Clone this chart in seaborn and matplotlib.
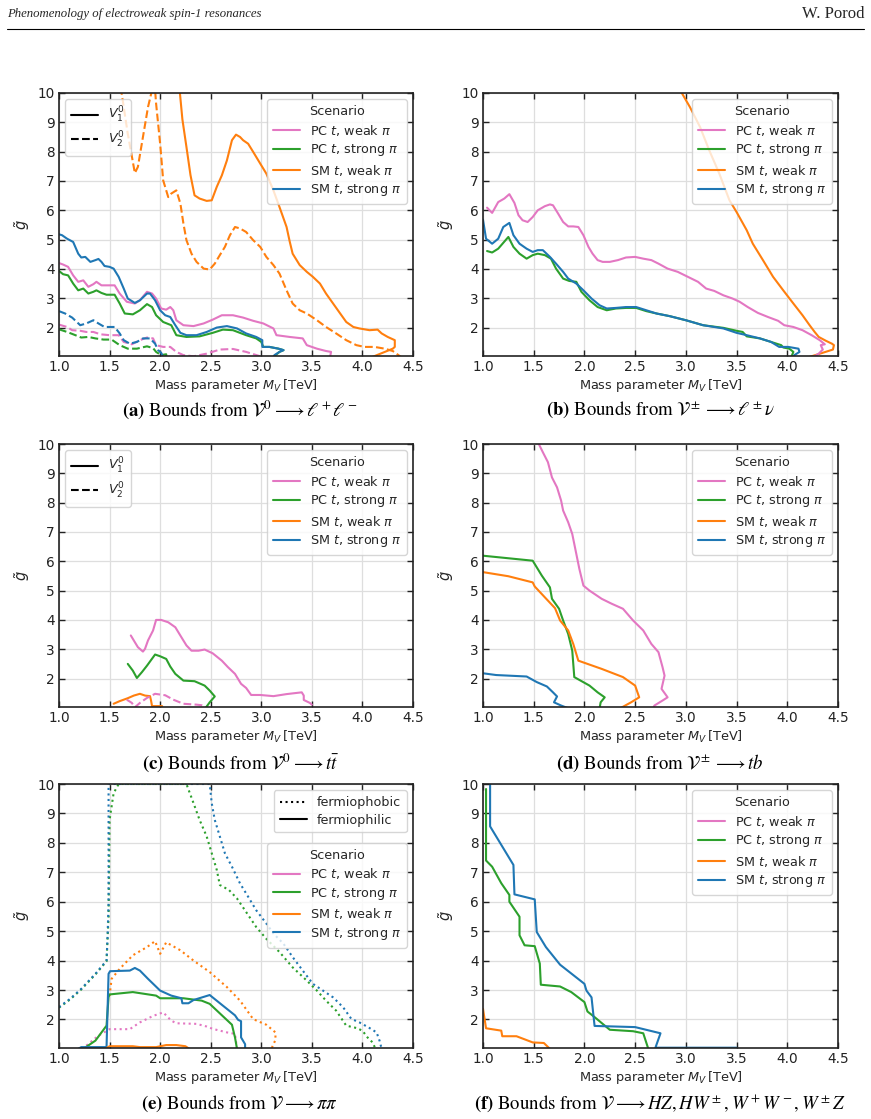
import matplotlib
matplotlib.use("Agg")
import matplotlib.pyplot as plt
import seaborn as sns
from matplotlib.lines import Line2D

# ---------------- DATA ----------------
XTICKS = [1.0, 1.5, 2.0, 2.5, 3.0, 3.5, 4.0, 4.5]
YTICKS = [2, 3, 4, 5, 6, 7, 8, 9, 10]
SCENARIOS = ["PC $t$, weak $\\pi$", "PC $t$, strong $\\pi$", "SM $t$, weak $\\pi$", "SM $t$, strong $\\pi$"]
COLORS = ["#e377c2", "#2ca02c", "#ff7f0e", "#1f77b4"]

# (a) V0 -> l+l-
a_smw1_x = [2.19, 2.22, 2.26, 2.30, 2.34, 2.39, 2.46, 2.51, 2.56, 2.61, 2.66, 2.71, 2.75, 2.79, 2.82, 2.87, 2.92, 2.99, 3.05, 3.12, 3.18, 3.25, 3.28, 3.31, 3.38, 3.45, 3.51, 3.58, 3.64, 3.71, 3.78, 3.84, 3.91, 3.97, 4.07, 4.15, 4.19, 4.25, 4.32, 4.32, 4.30, 4.10]
a_smw1_y = [10.2, 9.1, 8.16, 7.2, 6.51, 6.40, 6.32, 6.34, 6.80, 7.19, 7.70, 8.39, 8.58, 8.50, 8.39, 8.27, 7.99, 7.59, 7.25, 6.68, 6.11, 5.43, 4.95, 4.52, 4.13, 3.90, 3.73, 3.50, 3.16, 2.82, 2.48, 2.19, 2.02, 1.97, 1.91, 1.93, 1.80, 1.68, 1.57, 1.34, 1.28, 1.0]
a_smw2_x = [1.61, 1.68, 1.75, 1.78, 1.83, 1.88, 1.92, 1.95, 1.96, 2.00, 2.03, 2.08, 2.11, 2.16, 2.20, 2.23, 2.26, 2.31, 2.36, 2.43, 2.49, 2.54, 2.59, 2.64, 2.69, 2.74, 2.79, 2.85, 2.92, 2.99, 3.05, 3.12, 3.18, 3.25, 3.31, 3.38, 3.45, 3.55, 3.64, 3.74, 3.84, 3.94, 4.02, 4.12, 4.22, 4.30, 4.38]
a_smw2_y = [10.2, 8.61, 7.27, 7.48, 8.50, 9.52, 10.1, 10.1, 9.64, 8.27, 7.02, 6.45, 6.57, 6.68, 6.23, 5.55, 4.98, 4.52, 4.24, 4.01, 3.98, 4.18, 4.47, 4.75, 5.15, 5.43, 5.38, 5.26, 4.98, 4.75, 4.41, 4.13, 3.84, 3.27, 2.82, 2.59, 2.48, 2.25, 2.02, 1.80, 1.57, 1.40, 1.34, 1.34, 1.28, 1.20, 1.0]
a_sms1_x = [1.0, 1.03, 1.08, 1.14, 1.19, 1.22, 1.26, 1.31, 1.36, 1.39, 1.42, 1.45, 1.50, 1.54, 1.59, 1.64, 1.68, 1.75, 1.80, 1.87, 1.90, 1.95, 2.00, 2.05, 2.10, 2.15, 2.20, 2.26, 2.36, 2.46, 2.56, 2.66, 2.76, 2.85, 2.95, 3.01, 3.01, 3.08, 3.17, 3.22, 3.18, 3.13, 3.12]
a_sms1_y = [5.18, 5.15, 5.03, 4.92, 4.52, 4.39, 4.41, 4.24, 4.30, 4.34, 4.24, 4.10, 4.07, 4.01, 3.73, 3.33, 2.99, 2.84, 2.93, 3.16, 3.16, 2.93, 2.59, 2.42, 2.36, 2.08, 1.82, 1.74, 1.74, 1.85, 2.00, 2.05, 1.97, 1.80, 1.68, 1.57, 1.34, 1.34, 1.28, 1.23, 1.17, 1.06, 1.0]
a_pcw1_x = [1.0, 1.04, 1.09, 1.14, 1.19, 1.24, 1.29, 1.34, 1.37, 1.42, 1.47, 1.55, 1.60, 1.67, 1.75, 1.80, 1.87, 1.92, 1.96, 2.01, 2.06, 2.10, 2.13, 2.16, 2.23, 2.33, 2.43, 2.52, 2.61, 2.72, 2.82, 2.92, 3.02, 3.12, 3.15, 3.28, 3.41, 3.45, 3.55, 3.64, 3.69, 3.68]
a_pcw1_y = [4.20, 4.15, 4.07, 3.78, 3.56, 3.61, 3.39, 3.48, 3.56, 3.44, 3.44, 3.44, 3.16, 2.88, 2.82, 2.93, 3.22, 3.16, 2.99, 2.65, 2.61, 2.70, 2.59, 2.25, 2.08, 2.05, 2.14, 2.27, 2.42, 2.42, 2.34, 2.23, 2.14, 1.97, 1.74, 1.68, 1.63, 1.40, 1.28, 1.20, 1.17, 1.0]
a_pcs1_x = [1.0, 1.04, 1.09, 1.14, 1.19, 1.24, 1.29, 1.34, 1.37, 1.42, 1.47, 1.55, 1.60, 1.65, 1.73, 1.80, 1.87, 1.92, 1.96, 2.03, 2.11, 2.16, 2.26, 2.39, 2.52, 2.62, 2.72, 2.85, 2.95, 3.00, 3.02, 3.08, 3.17, 3.22, 3.18, 3.12]
a_pcs1_y = [3.93, 3.82, 3.78, 3.50, 3.27, 3.33, 3.16, 3.22, 3.27, 3.18, 3.12, 3.12, 2.82, 2.48, 2.45, 2.59, 2.80, 2.70, 2.42, 2.19, 2.08, 1.74, 1.68, 1.70, 1.82, 1.93, 1.91, 1.74, 1.63, 1.51, 1.34, 1.34, 1.28, 1.23, 1.17, 1.0]
a_sms2_x = [1.0, 1.06, 1.13, 1.21, 1.27, 1.34, 1.39, 1.45, 1.55, 1.60, 1.64, 1.70, 1.77, 1.83, 1.90, 1.95, 1.98, 2.01, 2.03]
a_sms2_y = [2.56, 2.48, 2.34, 2.08, 2.14, 2.25, 2.14, 2.02, 2.02, 1.80, 1.57, 1.45, 1.51, 1.63, 1.63, 1.45, 1.23, 1.14, 1.0]
a_pcw2_x = [1.0, 1.08, 1.13, 1.21, 1.27, 1.34, 1.41, 1.50, 1.59, 1.64, 1.72, 1.80, 1.87, 1.93, 1.96, 2.03, 2.10, 2.16, 2.23, 2.33, 2.46, 2.59, 2.72, 2.85, 2.99]
a_pcw2_y = [2.10, 2.02, 1.91, 1.89, 1.85, 1.85, 1.77, 1.74, 1.74, 1.51, 1.43, 1.57, 1.66, 1.63, 1.40, 1.34, 1.34, 1.17, 1.06, 1.02, 1.11, 1.25, 1.27, 1.17, 1.02]
a_pcs2_x = [1.0, 1.08, 1.14, 1.22, 1.29, 1.36, 1.44, 1.52, 1.60, 1.68, 1.77, 1.87, 1.93, 1.96, 2.01, 2.06, 2.06]
a_pcs2_y = [1.94, 1.85, 1.77, 1.66, 1.68, 1.63, 1.59, 1.59, 1.40, 1.28, 1.28, 1.36, 1.30, 1.17, 1.06, 1.09, 1.0]

# (b) V+- -> l nu
b_smw_x = [2.96, 3.04, 3.14, 3.23, 3.33, 3.43, 3.50, 3.60, 3.66, 3.76, 3.86, 3.96, 4.06, 4.15, 4.22, 4.27, 4.31, 4.38, 4.44, 4.46, 4.45, 4.35, 4.22]
b_smw_y = [10.0, 9.52, 8.84, 8.05, 7.25, 6.34, 5.94, 5.32, 4.86, 4.30, 3.73, 3.27, 2.82, 2.42, 2.08, 1.85, 1.68, 1.55, 1.45, 1.40, 1.25, 1.14, 1.0]
b_pcw_x = [1.04, 1.09, 1.15, 1.21, 1.26, 1.31, 1.35, 1.39, 1.44, 1.49, 1.54, 1.61, 1.66, 1.69, 1.74, 1.79, 1.84, 1.89, 1.94, 1.99, 2.04, 2.08, 2.13, 2.18, 2.25, 2.33, 2.41, 2.50, 2.58, 2.66, 2.73, 2.82, 2.92, 3.02, 3.12, 3.20, 3.28, 3.37, 3.46, 3.53, 3.61, 3.71, 3.81, 3.91, 3.97, 4.06, 4.15, 4.24, 4.32, 4.37, 4.33, 4.35, 4.31, 4.26]
b_pcw_y = [6.09, 5.91, 6.28, 6.40, 6.55, 6.25, 5.83, 5.66, 5.60, 5.77, 6.00, 6.14, 6.20, 6.17, 5.89, 5.60, 5.45, 5.45, 5.43, 5.15, 4.75, 4.52, 4.30, 4.24, 4.24, 4.30, 4.39, 4.41, 4.35, 4.30, 4.18, 4.01, 3.90, 3.73, 3.56, 3.33, 3.25, 3.10, 2.99, 2.88, 2.70, 2.50, 2.36, 2.23, 2.08, 2.02, 1.91, 1.74, 1.57, 1.43, 1.40, 1.25, 1.11, 1.0]
b_pcs_x = [1.04, 1.09, 1.15, 1.20, 1.25, 1.30, 1.36, 1.43, 1.49, 1.54, 1.61, 1.67, 1.72, 1.79, 1.85, 1.92, 1.97, 2.05, 2.13, 2.22, 2.31, 2.41, 2.51, 2.61, 2.71, 2.84, 3.00, 3.17, 3.37, 3.50, 3.56, 3.60, 3.73, 3.84, 3.94, 3.96, 4.02, 4.06, 4.04]
b_pcs_y = [4.61, 4.56, 4.69, 4.89, 5.09, 4.75, 4.52, 4.35, 4.47, 4.52, 4.47, 4.35, 4.01, 3.67, 3.59, 3.56, 3.22, 2.93, 2.70, 2.59, 2.65, 2.67, 2.67, 2.56, 2.48, 2.39, 2.25, 2.08, 1.99, 1.89, 1.85, 1.70, 1.63, 1.51, 1.40, 1.32, 1.28, 1.17, 1.0]
b_sms_x = [1.0, 1.03, 1.09, 1.15, 1.20, 1.26, 1.30, 1.36, 1.43, 1.49, 1.54, 1.59, 1.66, 1.72, 1.79, 1.84, 1.92, 1.99, 2.07, 2.15, 2.22, 2.31, 2.41, 2.51, 2.61, 2.71, 2.84, 3.00, 3.17, 3.37, 3.50, 3.60, 3.73, 3.84, 3.92, 4.01, 4.11, 4.12, 4.07, 4.06]
b_sms_y = [5.68, 5.03, 4.86, 5.03, 5.43, 5.57, 5.15, 4.86, 4.69, 4.58, 4.64, 4.64, 4.41, 4.18, 3.90, 3.67, 3.50, 3.27, 2.99, 2.76, 2.65, 2.67, 2.70, 2.70, 2.59, 2.48, 2.39, 2.25, 2.08, 1.97, 1.82, 1.74, 1.63, 1.51, 1.34, 1.34, 1.28, 1.17, 1.06, 1.0]

# (c) V0 -> t tbar
c_pcw1_x = [1.71, 1.75, 1.78, 1.83, 1.85, 1.88, 1.93, 1.96, 2.01, 2.08, 2.15, 2.21, 2.26, 2.31, 2.38, 2.44, 2.52, 2.61, 2.67, 2.74, 2.80, 2.85, 2.90, 2.99, 3.12, 3.25, 3.40, 3.42, 3.42, 3.48, 3.50]
c_pcw1_y = [3.47, 3.24, 3.07, 2.92, 3.01, 3.30, 3.64, 4.00, 4.00, 3.92, 3.75, 3.41, 3.13, 2.95, 2.95, 2.99, 2.86, 2.61, 2.39, 2.16, 1.82, 1.68, 1.44, 1.44, 1.40, 1.47, 1.53, 1.42, 1.27, 1.17, 1.11]
c_pcs1_x = [1.68, 1.73, 1.77, 1.82, 1.87, 1.95, 2.00, 2.06, 2.10, 2.15, 2.23, 2.34, 2.44, 2.49, 2.54, 2.49, 2.45]
c_pcs1_y = [2.50, 2.27, 2.02, 2.22, 2.44, 2.82, 2.76, 2.67, 2.41, 2.16, 1.93, 1.91, 1.76, 1.59, 1.39, 1.19, 1.0]
c_smw1_x = [1.54, 1.60, 1.68, 1.74, 1.80, 1.85, 1.90, 1.91, 1.92, 1.97, 2.02, 2.02]
c_smw1_y = [1.14, 1.23, 1.33, 1.42, 1.48, 1.42, 1.40, 1.25, 1.06, 1.06, 1.06, 1.0]
c_pcw2_x = [1.67, 1.72, 1.75, 1.80, 1.87, 1.95, 2.05, 2.13, 2.23, 2.36, 2.41, 2.45]
c_pcw2_y = [1.28, 1.17, 1.02, 1.17, 1.34, 1.48, 1.43, 1.28, 1.14, 1.11, 1.09, 1.0]

# (d) V+- -> t b
d_pcw_x = [1.55, 1.59, 1.64, 1.68, 1.73, 1.77, 1.79, 1.84, 1.88, 1.92, 1.95, 1.99, 2.05, 2.17, 2.27, 2.38, 2.48, 2.58, 2.66, 2.73, 2.77, 2.79, 2.76, 2.82, 2.77, 2.69, 2.68]
d_pcw_y = [10.0, 9.72, 9.38, 8.86, 8.52, 8.07, 7.73, 7.33, 6.93, 6.25, 5.74, 5.17, 5.00, 4.72, 4.55, 4.38, 3.98, 3.64, 3.18, 2.90, 2.39, 2.10, 1.65, 1.36, 1.25, 1.08, 1.0]
d_pcs_x = [1.0, 1.49, 1.58, 1.66, 1.68, 1.75, 1.79, 1.84, 1.88, 1.90, 2.05, 2.13, 2.20, 2.16, 2.15]
d_pcs_y = [6.19, 6.02, 5.51, 5.11, 4.72, 4.38, 3.98, 3.52, 2.95, 2.05, 1.76, 1.53, 1.36, 1.19, 1.0]
d_smw_x = [1.0, 1.25, 1.49, 1.51, 1.61, 1.71, 1.76, 1.84, 1.89, 1.94, 2.17, 2.38, 2.50, 2.54, 2.46, 2.36]
d_smw_y = [5.63, 5.49, 5.28, 5.14, 4.77, 4.40, 3.98, 3.64, 3.18, 2.61, 2.33, 2.05, 1.76, 1.36, 1.19, 1.0]
d_sms_x = [1.0, 1.13, 1.43, 1.53, 1.63, 1.69, 1.73, 1.70, 1.77, 1.83]
d_sms_y = [2.18, 2.12, 2.07, 1.88, 1.73, 1.53, 1.39, 1.19, 1.08, 1.0]

# (e) V -> pi pi   (phil = fermiophilic, solid; phob = fermiophobic, dotted)
e_sms_phil_x = [1.19, 1.22, 1.47, 1.49, 1.505, 1.70, 1.75, 1.80, 1.88, 2.00, 2.11, 2.21, 2.22, 2.28, 2.33, 2.49, 2.62, 2.74, 2.77, 2.80, 2.80, 2.84, 2.84]
e_sms_phil_y = [1.0, 1.06, 1.06, 3.55, 3.64, 3.66, 3.75, 3.66, 3.38, 2.98, 2.81, 2.72, 2.55, 2.55, 2.66, 2.83, 2.47, 2.14, 1.99, 1.94, 1.39, 1.16, 1.0]
e_pcs_phil_x = [1.24, 1.36, 1.47, 1.49, 1.50, 1.73, 1.96, 2.00, 2.23, 2.41, 2.49, 2.71, 2.74, 2.76]
e_pcs_phil_y = [1.0, 1.28, 1.79, 2.76, 2.85, 2.93, 2.81, 2.72, 2.72, 2.64, 2.53, 1.82, 1.39, 1.0]
e_smw_phil_x = [1.47, 1.50, 1.73, 1.80, 1.96, 2.06, 2.16, 2.25, 2.29]
e_smw_phil_y = [1.03, 1.09, 1.09, 1.06, 1.06, 1.13, 1.13, 1.09, 1.0]
e_pcw_phob_x = [1.27, 1.39, 1.50, 1.70, 1.80, 1.93, 2.03, 2.11, 2.16, 2.36, 2.46, 2.52, 2.66, 2.74, 2.76]
e_pcw_phob_y = [1.11, 1.45, 1.67, 1.67, 1.90, 2.12, 2.24, 1.96, 1.87, 1.85, 1.76, 1.68, 1.56, 1.51, 1.0]
e_smw_phob_x = [1.50, 1.52, 1.60, 1.73, 1.87, 1.95, 1.98, 2.00, 2.06, 2.20, 2.33, 2.49, 2.66, 2.79, 2.92, 3.05, 3.14, 3.14, 3.12, 3.10]
e_smw_phob_y = [2.80, 3.38, 3.72, 4.18, 4.46, 4.66, 4.40, 4.23, 4.62, 4.35, 4.00, 3.61, 3.10, 2.64, 2.01, 1.82, 1.56, 1.30, 1.16, 1.0]
e_sms_phob_x = [1.0, 1.11, 1.22, 1.36, 1.47, 1.48, 1.49, 1.49, 1.49, 1.49, 2.49, 2.51, 2.54, 2.59, 2.64, 2.71, 2.79, 2.87, 2.95, 3.05, 3.12, 3.22, 3.31, 3.41, 3.51, 3.61, 3.71, 3.81, 3.89, 3.97, 4.06, 4.14, 4.17, 4.19]
e_sms_phob_y = [2.42, 2.70, 3.04, 3.55, 4.00, 4.80, 5.94, 7.08, 8.22, 10.0, 10.0, 9.35, 8.78, 8.22, 7.65, 7.19, 6.62, 6.17, 5.71, 5.26, 4.92, 4.57, 4.12, 3.66, 3.21, 2.98, 2.75, 2.41, 2.02, 1.90, 1.73, 1.56, 1.27, 1.0]
e_pcs_phob_x = [1.0, 1.11, 1.22, 1.36, 1.47, 1.49, 1.50, 1.54, 1.59, 2.26, 2.33, 2.39, 2.46, 2.51, 2.56, 2.59, 2.68, 2.76, 2.86, 2.95, 3.05, 3.18, 3.31, 3.45, 3.55, 3.64, 3.74, 3.84, 3.94, 4.00, 4.05, 4.10, 4.13]
e_pcs_phob_y = [2.40, 2.68, 3.02, 3.53, 3.98, 5.48, 8.78, 9.69, 10.0, 10.0, 9.35, 8.78, 8.22, 7.65, 7.08, 6.57, 6.40, 6.11, 5.60, 5.14, 4.74, 4.29, 3.77, 3.32, 2.98, 2.64, 2.30, 1.79, 1.71, 1.62, 1.39, 1.22, 1.0]

# (f) V -> HZ, HW, WW, WZ
f_sms_x = [1.07, 1.07, 1.30, 1.31, 1.51, 1.53, 1.62, 1.76, 2.00, 2.02, 2.07, 2.10, 2.50, 2.75, 2.70, 3.50]
f_sms_y = [10.0, 8.56, 7.25, 6.25, 6.08, 4.97, 4.46, 3.86, 3.21, 2.98, 2.75, 1.78, 1.74, 1.53, 1.04, 1.04]
f_pcs_x = [1.03, 1.03, 1.09, 1.18, 1.26, 1.26, 1.36, 1.36, 1.41, 1.51, 1.56, 1.57, 1.76, 1.87, 2.00, 2.03, 2.10, 2.18, 2.25, 2.48, 2.58, 2.63]
f_pcs_y = [9.83, 7.40, 7.19, 6.63, 6.23, 6.00, 5.49, 4.86, 4.52, 4.49, 3.90, 3.18, 3.12, 2.93, 2.59, 2.27, 2.08, 1.85, 1.65, 1.60, 1.53, 1.0]
f_smw_x = [1.0, 1.03, 1.18, 1.19, 1.33, 1.49, 1.60, 1.66]
f_smw_y = [2.36, 1.70, 1.62, 1.43, 1.43, 1.22, 1.20, 1.0]

CAPTIONS = [
    r"$\mathbf{(a)}$ Bounds from $\mathcal{V}^0 \longrightarrow \ell^+\ell^-$",
    r"$\mathbf{(b)}$ Bounds from $\mathcal{V}^\pm \longrightarrow \ell^\pm\nu$",
    r"$\mathbf{(c)}$ Bounds from $\mathcal{V}^0 \longrightarrow t\bar{t}$",
    r"$\mathbf{(d)}$ Bounds from $\mathcal{V}^\pm \longrightarrow tb$",
    r"$\mathbf{(e)}$ Bounds from $\mathcal{V} \longrightarrow \pi\pi$",
    r"$\mathbf{(f)}$ Bounds from $\mathcal{V} \longrightarrow HZ, HW^\pm, W^+W^-, W^\pm Z$",
]

# ---------------- STYLE ----------------
sns.set_theme(style="whitegrid")
plt.rcParams.update({
    "font.family": ["DejaVu Sans"],
    "axes.edgecolor": "#222222",
    "axes.linewidth": 1.2,
    "grid.color": "#dedede",
    "grid.linewidth": 0.9,
    "xtick.direction": "in",
    "ytick.direction": "in",
    "xtick.top": True,
    "ytick.right": True,
    "xtick.major.size": 4,
    "ytick.major.size": 4,
    "xtick.major.width": 1.0,
    "ytick.major.width": 1.0,
    "xtick.color": "#222222",
    "ytick.color": "#222222",
    "xtick.labelsize": 9.8,
    "ytick.labelsize": 9.8,
    "axes.labelsize": 9.3,
    "legend.fontsize": 9.2,
    "legend.title_fontsize": 9.2,
    "axes.facecolor": "white",
})

W, H = 871, 1119
fig = plt.figure(figsize=(W / 100, H / 100), dpi=100)

cols = [(59, 413), (483, 838)]
rows = [(93, 356), (444, 707), (784, 1048)]


def make_ax(r, c):
    l, rt = cols[c]
    t, b = rows[r]
    ax = fig.add_axes([l / W, 1 - b / H, (rt - l) / W, (b - t) / H])
    ax.set_xlim(1.0, 4.5)
    ax.set_ylim(1.03, 10)
    ax.set_xticks(XTICKS)
    ax.set_yticks(YTICKS)
    ax.set_xticklabels([f"{v:.1f}" for v in XTICKS])
    ax.grid(True, zorder=0)
    ax.tick_params(axis="both", which="both", direction="in", top=True, right=True,
                   bottom=True, left=True, pad=3)
    ax.set_xlabel(r"Mass parameter $M_V\,$[TeV]", labelpad=2)
    ax.set_ylabel(r"$\tilde{g}$", labelpad=4, fontsize=10.5)
    for s in ax.spines.values():
        s.set_visible(True)
        s.set_color("#222222")
        s.set_linewidth(1.2)
    return ax


def line(ax, xs, ys, color, ls="-"):
    sns.lineplot(x=xs, y=ys, sort=False, estimator=None, ax=ax, color=color,
                 linestyle=ls, linewidth=1.5, legend=False)


LEG_KW = dict(frameon=True, fancybox=True, framealpha=0.8, edgecolor="#cccccc",
              labelspacing=0.35, handlelength=2.1, borderpad=0.45)


def scen_legend(ax, **kw):
    handles = [Line2D([0], [0], color=c, lw=1.5) for c in COLORS]
    leg = ax.legend(handles, SCENARIOS, title="Scenario", loc="upper right", **LEG_KW, **kw)
    return leg


def style_legend(ax, labels, styles, loc="upper left", **kw):
    handles = [Line2D([0], [0], color="black", lw=1.5, linestyle=s) for s in styles]
    leg = ax.legend(handles, labels, loc=loc, **LEG_KW, **kw)
    ax.add_artist(leg)
    return leg

pink, green, orange, blue = COLORS

# (a)
ax = make_ax(0, 0)
line(ax, a_smw1_x, a_smw1_y, orange)
line(ax, a_smw2_x, a_smw2_y, orange, "--")
line(ax, a_pcw1_x, a_pcw1_y, pink)
line(ax, a_pcs1_x, a_pcs1_y, green)
line(ax, a_sms1_x, a_sms1_y, blue)
line(ax, a_pcw2_x, a_pcw2_y, pink, "--")
line(ax, a_pcs2_x, a_pcs2_y, green, "--")
line(ax, a_sms2_x, a_sms2_y, blue, "--")
style_legend(ax, [r"$V_1^0$", r"$V_2^0$"], ["-", "--"])
scen_legend(ax)

# (b)
ax = make_ax(0, 1)
line(ax, b_smw_x, b_smw_y, orange)
line(ax, b_pcw_x, b_pcw_y, pink)
line(ax, b_pcs_x, b_pcs_y, green)
line(ax, b_sms_x, b_sms_y, blue)
scen_legend(ax)

# (c)
ax = make_ax(1, 0)
line(ax, c_pcw1_x, c_pcw1_y, pink)
line(ax, c_pcs1_x, c_pcs1_y, green)
line(ax, c_smw1_x, c_smw1_y, orange)
line(ax, c_pcw2_x, c_pcw2_y, pink, "--")
style_legend(ax, [r"$V_1^0$", r"$V_2^0$"], ["-", "--"])
scen_legend(ax)

# (d)
ax = make_ax(1, 1)
line(ax, d_pcw_x, d_pcw_y, pink)
line(ax, d_pcs_x, d_pcs_y, green)
line(ax, d_smw_x, d_smw_y, orange)
line(ax, d_sms_x, d_sms_y, blue)
scen_legend(ax)

# (e)
ax = make_ax(2, 0)
line(ax, e_pcs_phob_x, e_pcs_phob_y, green, ":")
line(ax, e_sms_phob_x, e_sms_phob_y, blue, ":")
line(ax, e_smw_phob_x, e_smw_phob_y, orange, ":")
line(ax, e_pcw_phob_x, e_pcw_phob_y, pink, ":")
line(ax, e_pcs_phil_x, e_pcs_phil_y, green)
line(ax, e_sms_phil_x, e_sms_phil_y, blue)
line(ax, e_smw_phil_x, e_smw_phil_y, orange)
style_legend(ax, ["fermiophobic", "fermiophilic"], [":", "-"], loc="upper right")
scen_legend(ax, bbox_to_anchor=(1.0, 0.80))

# (f)
ax = make_ax(2, 1)
line(ax, f_pcs_x, f_pcs_y, green)
line(ax, f_sms_x, f_sms_y, blue)
line(ax, f_smw_x, f_smw_y, orange)
scen_legend(ax)

# captions
cap_pos = [(240, 410), (660, 410), (240, 763), (660, 763), (240, 1104), (660, 1104)]
for txt, (x, y) in zip(CAPTIONS, cap_pos):
    fig.text(x / W, 1 - y / H, txt, ha="center", va="center", fontsize=13.5,
             family="STIXGeneral", math_fontfamily="stix", color="black")

# header
fig.text(7 / W, 1 - 14 / H, "Phenomenology of electroweak spin-1 resonances", ha="left",
         va="center", fontsize=9.2, family="Liberation Serif", style="italic")
fig.text(864 / W, 1 - 14 / H, "W. Porod", ha="right", va="center", fontsize=12,
         family="Liberation Serif")
fig.add_artist(Line2D([7 / W, 864 / W], [1 - 28.5 / H, 1 - 28.5 / H], color="black", lw=0.8))

fig.savefig("out.png", dpi=100)
